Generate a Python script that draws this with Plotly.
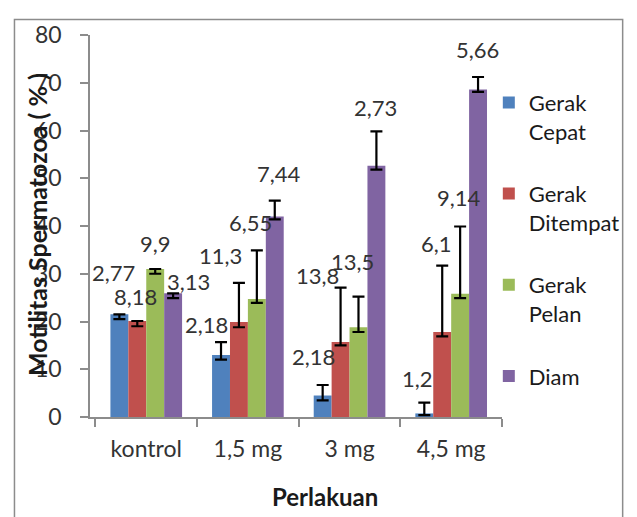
import plotly.graph_objects as go

# ---- data ----
categories = ["kontrol", "1,5 mg", "3 mg", "4,5 mg"]
series_names = ["Gerak<br>Cepat", "Gerak<br>Ditempat", "Gerak<br>Pelan", "Diam"]

gerak_cepat = [21.5, 13.0, 4.5, 0.75]
gerak_ditempat = [20.1, 19.9, 15.7, 17.8]
gerak_pelan = [31.0, 24.7, 18.8, 25.8]
diam = [25.9, 42.0, 52.6, 68.6]

err_plus_cepat = [0.0, 2.7, 2.2, 2.25]
err_plus_ditempat = [0.0, 8.2, 11.4, 13.9]
err_plus_pelan = [0.0, 10.2, 6.4, 14.1]
err_plus_diam = [0.0, 3.3, 7.2, 2.6]

err_minus_cepat = [1.0, 1.0, 1.0, 0.35]
err_minus_ditempat = [1.1, 1.1, 0.7, 0.9]
err_minus_pelan = [1.0, 0.8, 1.0, 0.9]
err_minus_diam = [1.0, 0.6, 0.8, 0.5]

sd_cepat = ["2,77", "2,18", "2,18", "1,2"]
sd_ditempat = ["8,18", "11,3", "13,8", "6,1"]
sd_pelan = ["9,9", "6,55", "13,5", "9,14"]
sd_diam = ["3,13", "7,44", "2,73", "5,66"]

y_ticks = [0, 10, 20, 30, 40, 50, 60, 70, 80]

# ---- styles / layout ----
colors = ["#4F81BD", "#C0504D", "#9BBB59", "#8064A2"]
FONT = "Lato, 'Open Sans', sans-serif"
TXT = "#333333"
bar_offsets = [-27.75, -9.25, 9.25, 27.75]
# label nudges (pixels) per series, per category
LABEL_DX = [[-5, -14, -8, -6], [-2, -18, -23, -5], [0, -7, -6, -1], [14, 3, -2, -1]]
LABEL_DY = [[42, 18, 29, 24], [25, 27, 12, 22], [25, 28, 35, 29], [12, 27, 24, 28]]

values = [gerak_cepat, gerak_ditempat, gerak_pelan, diam]
plus = [err_plus_cepat, err_plus_ditempat, err_plus_pelan, err_plus_diam]
minus = [err_minus_cepat, err_minus_ditempat, err_minus_pelan, err_minus_diam]
sds = [sd_cepat, sd_ditempat, sd_pelan, sd_diam]

fig = go.Figure()
for i in range(4):
    fig.add_trace(go.Bar(
        x=categories, y=values[i], name=series_names[i],
        legendgroup=f"g{i}",
        marker=dict(color=colors[i], line=dict(width=0)),
        error_y=dict(type="data", symmetric=False, array=plus[i], arrayminus=minus[i],
                     color="#000000", thickness=2.2, width=6),
    ))

annotations = []
for i in range(4):
    for j, cat in enumerate(categories):
        annotations.append(dict(
            x=cat, y=values[i][j] + plus[i][j], xref="x", yref="y",
            text=sds[i][j], showarrow=False,
            xshift=bar_offsets[i] + LABEL_DX[i][j], yshift=LABEL_DY[i][j],
            font=dict(family=FONT, size=22, color=TXT),
            xanchor="center", yanchor="middle",
        ))

annotations.append(dict(
    x=-0.1286, y=0.5026, xref="paper", yref="paper",
    text="<b>Motilitas Spermatozoa ( % )</b>", textangle=-90, showarrow=False,
    font=dict(family=FONT, size=25, color="#1a1a1a"), xanchor="center", yanchor="middle"))
annotations.append(dict(
    x=0.571, y=-0.209, xref="paper", yref="paper",
    text="<b>Perlakuan</b>", showarrow=False,
    font=dict(family=FONT, size=24, color="#1a1a1a"), xanchor="center", yanchor="middle"))

# page has an 8px body margin: figure is 8px smaller and everything sits 8px up/left
fig.update_layout(
    width=629, height=509,
    margin=dict(l=82, r=127, t=17, b=100),
    paper_bgcolor="white", plot_bgcolor="white",
    barmode="group", bargap=0.295, bargroupgap=0,
    font=dict(family=FONT, size=22, color=TXT),
    showlegend=True,
    legend=dict(x=0.968, xanchor="left", y=0.878, yanchor="top",
                traceorder="grouped", tracegroupgap=31, valign="top",
                font=dict(family=FONT, size=22, color="#1a1a1a"),
                bgcolor="rgba(0,0,0,0)"),
    annotations=annotations,
    shapes=[dict(type="rect", xref="paper", yref="paper",
                 x0=(13 - 90) / 420, x1=(633 - 90) / 420,
                 y0=(417 - 540) / 392, y1=(417 - 9) / 392,
                 line=dict(color="#8c8c8c", width=1.5), fillcolor="rgba(0,0,0,0)", layer="below")],
)
fig.update_xaxes(showline=True, linecolor="#8c8c8c", linewidth=1.5,
                 ticks="outside", tickson="boundaries", ticklen=8, tickcolor="#8c8c8c",
                 tickwidth=1.5, showgrid=False, ticklabelstandoff=11,
                 tickfont=dict(family=FONT, size=23, color=TXT))
fig.update_yaxes(range=[0, 80], tickvals=y_ticks, showline=True, linecolor="#8c8c8c",
                 linewidth=1.5, ticks="outside", ticklen=8, tickcolor="#8c8c8c", tickwidth=1.5,
                 showgrid=False, zeroline=False, ticklabelstandoff=14,
                 tickfont=dict(family=FONT, size=23, color=TXT))

fig.write_html("out.html")
